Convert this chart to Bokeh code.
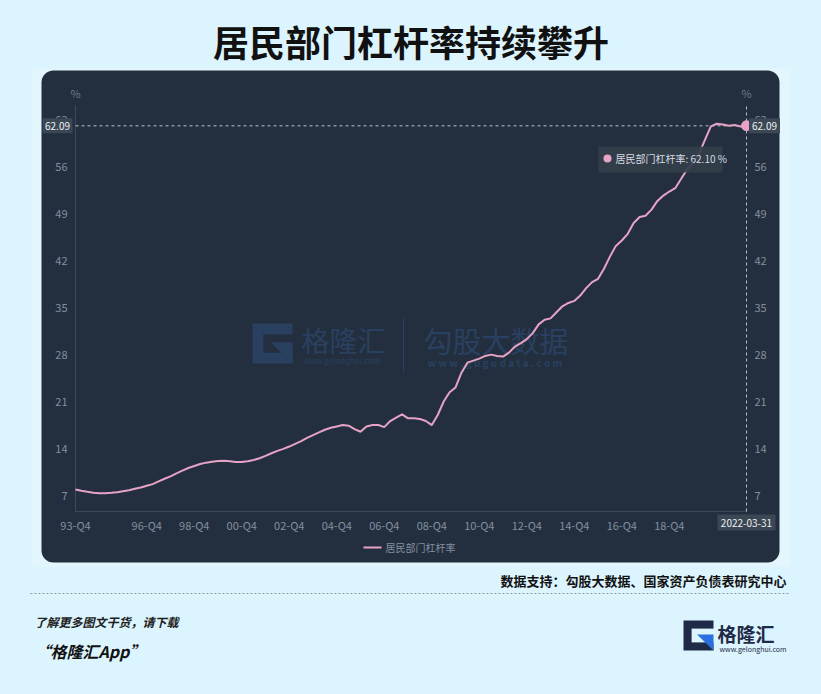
from bokeh.plotting import figure
from bokeh.models import Range1d, BoxAnnotation, ColumnDataSource
from bokeh.core.properties import value
from bokeh.embed import file_html
from bokeh.resources import INLINE

# ---------------- data ----------------
values = [
    7.9,                         # 93-Q4
    7.7, 7.55, 7.42, 7.35,       # 94
    7.35, 7.4, 7.5, 7.65,        # 95
    7.8, 8.0, 8.2, 8.45,         # 96
    8.7, 9.1, 9.5, 9.85,         # 97
    10.3, 10.7, 11.1, 11.4,      # 98
    11.7, 11.9, 12.05, 12.15,    # 99
    12.2, 12.1, 12.0, 12.0,      # 00
    12.1, 12.3, 12.55, 12.9,     # 01
    13.3, 13.65, 13.95, 14.3,    # 02
    14.7, 15.1, 15.6, 16.0,      # 03
    16.4, 16.8, 17.1, 17.3,      # 04
    17.5, 17.4, 16.9, 16.5,      # 05
    17.3, 17.5, 17.5, 17.2,      # 06
    18.1, 18.6, 19.1, 18.5,      # 07
    18.5, 18.4, 18.1, 17.5,      # 08
    19.0, 21.0, 22.4, 23.1,      # 09
    25.3, 26.8, 27.1, 27.4,      # 10
    27.8, 28.0, 27.8, 27.7,      # 11
    28.3, 29.2, 29.7, 30.3,      # 12
    31.2, 32.5, 33.2, 33.4,      # 13
    34.3, 35.2, 35.7, 36.0,      # 14
    36.8, 37.9, 38.8, 39.3,      # 15
    40.8, 42.6, 44.2, 45.0,      # 16
    46.0, 47.6, 48.5, 48.7,      # 17
    49.6, 50.9, 51.7, 52.3,      # 18
    52.8, 54.2, 55.6, 56.5,      # 19
    57.9, 60.0, 62.0, 62.4,      # 20
    62.3, 62.1, 62.2, 62.0,      # 21
    62.1,                        # 22-Q1
]
quarters = []
_y, _q = 93, 4
for _ in range(len(values)):
    quarters.append(f"{_y % 100:02d}-Q{_q}")
    _q += 1
    if _q > 4:
        _q = 1
        _y += 1

tick_labels = ["93-Q4", "96-Q4", "98-Q4", "00-Q4", "02-Q4", "04-Q4", "06-Q4",
               "08-Q4", "10-Q4", "12-Q4", "14-Q4", "16-Q4", "18-Q4"]
y_ticks = [7, 14, 21, 28, 35, 42, 49, 56, 63]
series_name = "居民部门杠杆率"
pointer_value = 62.09
pointer_date = "2022-03-31"
tooltip_value = "62.10"
title = "居民部门杠杆率持续攀升"
source_note = "数据支持：勾股大数据、国家资产负债表研究中心"

# ---------------- style / layout ----------------
BG = "#dcf4fd"
BAND = "#e4f6fd"
PANEL = "#232f3e"
PINK = "#e6a3c6"
AXIS = "#3d4a58"
TICK = "#8290a0"
FONT = "Noto Sans CJK SC"
WM = "#2a4060"
NAVY = "#1e2a48"

PAGE_L, PAGE_R, PAGE_T, PAGE_B = 0, 805, 0, 678    # canvas in page pixels
X0, X1 = 75, 746          # page x of first / last quarter
YB, YT = 511, 105         # page y of value-axis bottom / top
VMIN, VMAX = 4.62, 65.12  # value axis extent

n = len(values)
kx = (X1 - X0) / (n - 1)
ky = (YB - YT) / (VMAX - VMIN)

p = figure(width=PAGE_R - PAGE_L, height=PAGE_B - PAGE_T, output_backend="svg",
           toolbar_location=None, x_axis_location=None, y_axis_location=None,
           x_range=Range1d(PAGE_L, PAGE_R), y_range=Range1d(PAGE_B, PAGE_T),
           min_border=0, background_fill_color=BG, border_fill_color=BG,
           outline_line_color=None)
p.extra_x_ranges = {"q": Range1d(0 - (X0 - PAGE_L) / kx, (n - 1) + (PAGE_R - X1) / kx)}
p.extra_y_ranges = {"v": Range1d(VMIN - (PAGE_B - YB) / ky, VMAX + (YT - PAGE_T) / ky)}
p.xgrid.visible = False
p.ygrid.visible = False


def txt(x, y, s, size, color, align="left", style="normal", baseline="middle",
        xr="default", yr="default"):
    return p.text(x=x, y=y, text=s, text_font=value(FONT), text_font_size=size,
                  text_color=color, text_align=align, text_baseline=baseline,
                  text_font_style=style, x_range_name=xr, y_range_name=yr)


# background band and dark panel
p.add_layout(BoxAnnotation(left=32, right=790, top=68, bottom=566, fill_color=BAND,
                           fill_alpha=1, line_color=None, level="underlay"))
p.add_layout(BoxAnnotation(left=41, right=779, top=70, bottom=562, fill_color=PANEL,
                           fill_alpha=1, line_color=None, border_radius=12,
                           level="underlay"))


def g_logo(x0, y0, s, navy, blue, bg):
    t = s * 0.27
    p.quad(left=[x0], right=[x0 + s], top=[y0], bottom=[y0 + s],
           fill_color=navy, line_color=None)
    p.quad(left=[x0 + t], right=[x0 + s + 0.5], top=[y0 + t], bottom=[y0 + s - t],
           fill_color=bg, line_color=None)
    p.patch(x=[x0 + s * 0.45, x0 + s, x0 + s], y=[y0 + s * 0.47, y0 + s * 0.47, y0 + s],
            fill_color=blue, line_color=None)


# watermark
g_logo(252, 323, 40, WM, WM, PANEL)
txt([301], [339], ["格隆汇"], "28px", WM)
txt([303], [360], ["www.gelonghui.com"], "8px", WM)
p.segment(x0=[403], y0=[318], x1=[403], y1=[372], line_color=WM, line_width=1)
txt([423], [339], ["勾股大数据"], "29px", WM)
txt([427], [362], ["w w w . g u g u d a t a . c o m"], "10px", WM, style="bold")

# axes lines
p.segment(x0=[0], y0=[VMIN], x1=[0], y1=[VMAX], line_color=AXIS, line_width=1,
          x_range_name="q", y_range_name="v")
p.segment(x0=[0], y0=[VMIN], x1=[n - 1], y1=[VMIN], line_color=AXIS, line_width=1,
          x_range_name="q", y_range_name="v")

# tick labels
ylab = [str(t) for t in y_ticks]
txt([X0 - 8] * len(y_ticks), y_ticks, ylab, "11px", TICK, align="right", yr="v")
txt([X1 + 8] * len(y_ticks), y_ticks, ylab, "11px", TICK, align="left", yr="v")
txt([quarters.index(t) for t in tick_labels], [YB + 13] * len(tick_labels),
    tick_labels, "11px", TICK, align="center", xr="q")

# "%" unit labels
txt([X0, X1], [92, 92], ["%", "%"], "11px", "#6c7a88", align="center")

# crosshair
p.segment(x0=[0], y0=[pointer_value], x1=[n - 1], y1=[pointer_value],
          line_color="#b9c1c9", line_dash="3 3", line_width=1,
          x_range_name="q", y_range_name="v")
p.segment(x0=[n - 1], y0=[VMIN], x1=[n - 1], y1=[VMAX],
          line_color="#b9c1c9", line_dash="3 3", line_width=1,
          x_range_name="q", y_range_name="v")

# series
src = ColumnDataSource(dict(x=list(range(n)), y=values))
p.line("x", "y", source=src, line_color=PINK, line_width=2,
       x_range_name="q", y_range_name="v")
p.scatter(x=[n - 1], y=[values[-1]], size=10, fill_color=PINK, line_color=PINK,
          x_range_name="q", y_range_name="v")

# pointer labels
p.rect(x=[57, 764], y=[pointer_value] * 2, width=[30, 31], height=15,
       height_units="screen", fill_color="#3b4754", line_color=None,
       y_range_name="v")
txt([57, 764], [pointer_value] * 2, [f"{pointer_value:.2f}"] * 2, "10px",
    "#eef0f2", align="center", yr="v")
p.rect(x=[n - 1], y=[YB + 11], width=58, height=16, width_units="screen",
       fill_color="#3b4754", line_color=None, x_range_name="q")
txt([n - 1], [YB + 11], [pointer_date], "10px", "#eef0f2", align="center", xr="q")

# tooltip
p.quad(left=[598], right=[722], top=[146], bottom=[172], fill_color="#343f4b",
       fill_alpha=0.92, line_color=None)
p.scatter(x=[607], y=[158], size=8, fill_color=PINK, line_color=None)
txt([615], [158], [f"{series_name}: {tooltip_value}   %"], "10px", "#d6dbe0")

# legend
p.segment(x0=[363], y0=[547], x1=[381], y1=[547], line_color=PINK, line_width=2)
txt([385], [547], [series_name], "10px", TICK)

# title
txt([410.5], [40], [title], "36px", "#111111", align="center", style="bold")

# source note and separator
txt([786], [580], [source_note], "13px", "#111111", align="right", style="bold")
p.segment(x0=[30], y0=[593], x1=[790], y1=[593], line_color="#8c9aa3",
          line_dash="2 2", line_width=1)

# footer
txt([34], [621], ["了解更多图文干货，请下载"], "12px", "#222222", style="bold italic")
txt([34], [650], ["“格隆汇App”"], "16px", "#111111", style="bold italic")
g_logo(683, 620, 30, NAVY, "#2c6fe0", BG)
txt([717], [633], ["格隆汇"], "19px", NAVY, style="bold")
txt([719], [648], ["www.gelonghui.com"], "7px", NAVY)

html = file_html(p, INLINE, title=title)
html = html.replace("</head>", "<style>html,body{background:%s;}</style></head>" % BG, 1)
open("out.html", "w").write(html)
